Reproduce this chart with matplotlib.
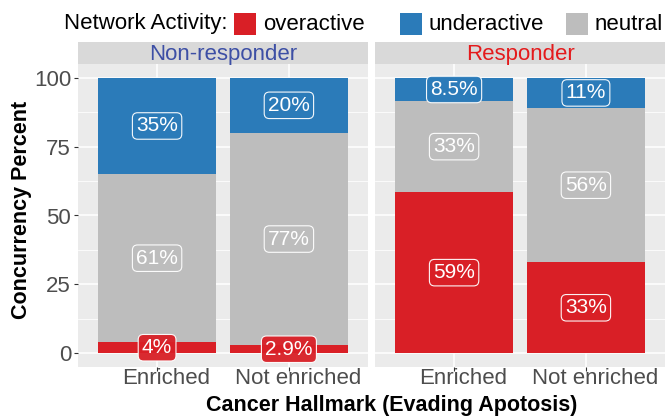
import numpy as np
import matplotlib.pyplot as plt
import matplotlib.transforms as mtransforms
from matplotlib.patches import Rectangle

plt.rcParams['font.family'] = ['Liberation Sans', 'DejaVu Sans']

# data: percent of each network activity, per response group and hallmark status
groups = ["Non-responder", "Responder"]
hallmark = ["Enriched", "Not enriched"]
activity = ["overactive", "underactive", "neutral"]

overactive = {"Non-responder": [4.0, 2.9], "Responder": [58.5, 33.0]}
neutral = {"Non-responder": [61.0, 77.1], "Responder": [33.0, 56.0]}
underactive = {"Non-responder": [35.0, 20.0], "Responder": [8.5, 11.0]}

over_lab = {"Non-responder": ["4%", "2.9%"], "Responder": ["59%", "33%"]}
neut_lab = {"Non-responder": ["61%", "77%"], "Responder": ["33%", "56%"]}
under_lab = {"Non-responder": ["35%", "20%"], "Responder": ["8.5%", "11%"]}

colors = {"overactive": "#D91F26", "underactive": "#2B7BB9", "neutral": "#BDBDBD"}
strip_colors = {"Non-responder": "#3D4FA5", "Responder": "#E41A1C"}

W, H = 666, 419
fig = plt.figure(figsize=(W / 100, H / 100), dpi=100)


def rect(x0, y0, x1, y1):
    return [x0 / W, 1 - y1 / H, (x1 - x0) / W, (y1 - y0) / H]


panels = {"Non-responder": (78, 368), "Responder": (375, 665)}
top, bottom = 64, 367
tick_col = "#4D4D4D"

for gi, g in enumerate(groups):
    x0, x1 = panels[g]
    ax = fig.add_axes(rect(x0, top, x1, bottom))
    ax.set_facecolor("#EBEBEB")
    for s in ax.spines.values():
        s.set_visible(False)
    ax.set_xlim(0.4, 2.6)
    ax.set_ylim(-5, 105)
    xs = np.arange(1, len(hallmark) + 1)

    ax.set_yticks([0, 25, 50, 75, 100])
    ax.set_yticks([12.5, 37.5, 62.5, 87.5], minor=True)
    ax.set_xticks(xs)
    ax.grid(which="major", color="white", lw=1.1)
    ax.grid(which="minor", axis="y", color="white", lw=0.55)
    ax.set_axisbelow(True)
    ax.tick_params(which="minor", length=0)
    ax.tick_params(which="major", length=3, width=0.8, color="#333333",
                   labelsize=16, labelcolor=tick_col, pad=2)
    ax.set_xticklabels([])
    if gi > 0:
        ax.tick_params(axis="y", length=0, labelleft=False)

    bot = np.zeros(len(xs))
    stack = [(overactive[g], over_lab[g], "overactive"),
             (neutral[g], neut_lab[g], "neutral"),
             (underactive[g], under_lab[g], "underactive")]
    for vals, labs, act in stack:
        vals = np.array(vals)
        ax.bar(xs, vals, width=0.9, bottom=bot, color=colors[act], lw=0)
        for x, v, b, lab in zip(xs, vals, bot, labs):
            ax.text(x, b + v / 2, lab, ha="center", va="center", color="white",
                    fontsize=15,
                    bbox=dict(boxstyle="round,pad=0.18,rounding_size=0.25",
                              fc=colors[act], ec="white", lw=0.8, alpha=0.95))
        bot = bot + vals

    # x tick labels (slightly shifted as in the original)
    tr = mtransforms.blended_transform_factory(ax.transData, ax.transAxes)
    off = mtransforms.ScaledTranslation(9 / 100, -11 / 100, fig.dpi_scale_trans)
    for x, lab in zip(xs, hallmark):
        ax.text(x, 0, lab, transform=tr + off, ha="center", va="center",
                fontsize=16, color=tick_col)

    # facet strip
    sax = fig.add_axes(rect(x0, 42, x1, top))
    sax.set_facecolor("#D9D9D9")
    sax.set_xticks([])
    sax.set_yticks([])
    for s in sax.spines.values():
        s.set_visible(False)
    sax.text(0.5, 0.45, g, ha="center", va="center", fontsize=16,
             color=strip_colors[g], transform=sax.transAxes)

fig.text(22 / W, 1 - 210 / H, "Concurrency Percent", rotation=90, ha="center",
         va="center", fontsize=15.5, fontweight="bold")
fig.text(392 / W, 1 - 405 / H, "Cancer Hallmark (Evading Apotosis)",
         ha="center", va="center", fontsize=15.5, fontweight="bold")

# legend on top, laid out by hand
leg_y = 24
fig.text(227 / W, 1 - leg_y / H, "Network Activity:", ha="right", va="center",
         fontsize=16)
key_left = [234, 400, 566]
for kx, a in zip(key_left, activity):
    fig.patches.append(Rectangle((kx / W, 1 - (leg_y + 11) / H), 22 / W, 22 / H,
                                 transform=fig.transFigure, facecolor=colors[a],
                                 edgecolor="none"))
    fig.text((kx + 29) / W, 1 - leg_y / H, a, ha="left", va="center",
             fontsize=16)

fig.savefig("out.png", dpi=100)
